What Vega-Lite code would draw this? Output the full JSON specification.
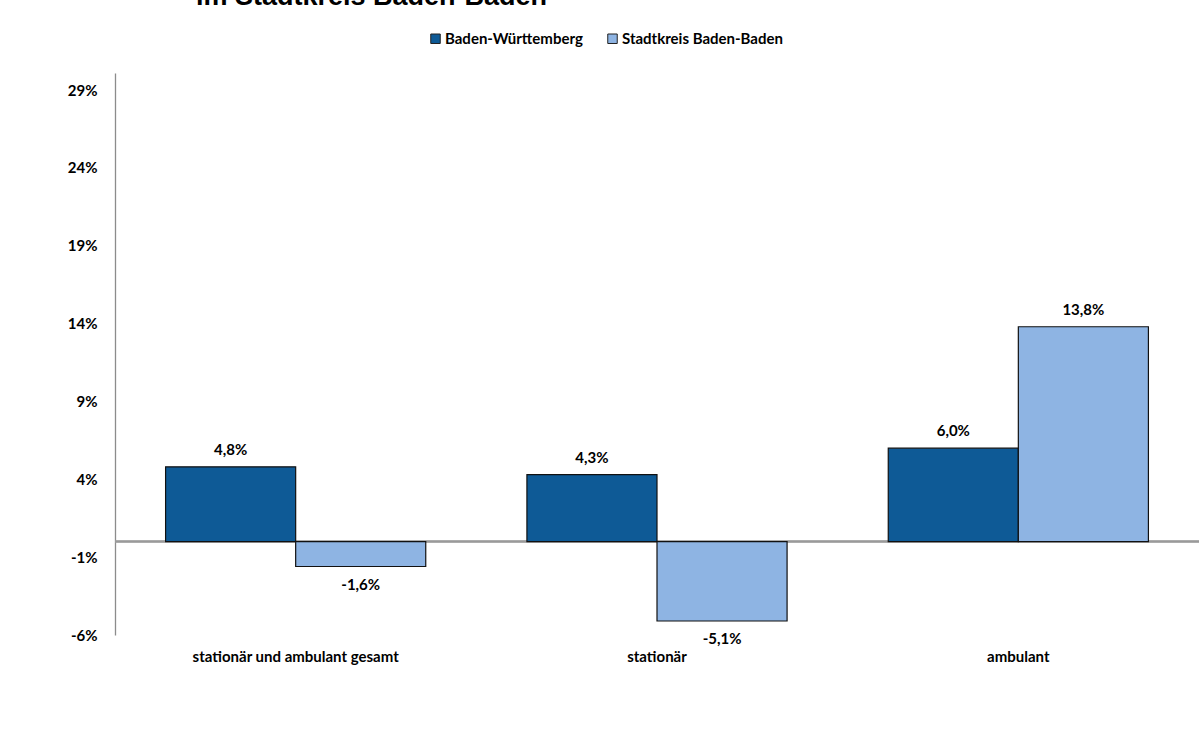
{
  "$schema": "https://vega.github.io/schema/vega-lite/v6.json",
  "autosize": {"type": "none"},
  "width": 1084,
  "height": 562,
  "padding": {"left": 115, "top": 73, "right": 5, "bottom": 121},
  "background": "white",
  "title": {
    "text": "im Stadtkreis Baden-Baden",
    "anchor": "start",
    "frame": "group",
    "font": "Liberation Sans",
    "fontSize": 27,
    "fontWeight": "bold",
    "color": "#000000",
    "baseline": "alphabetic",
    "dx": 81,
    "dy": 17,
    "offset": 16
  },
  "config": {
    "locale": {"number": {"decimal": ",", "thousands": ".", "grouping": [3], "currency": ["", " €"], "minus": "-", "percent": "%"}},
    "view": {"stroke": null},
    "font": "Lato"
  },
  "data": {
    "values": [
      {"cat": "stationär und ambulant gesamt", "region": "Baden-Württemberg", "value": 0.048},
      {"cat": "stationär und ambulant gesamt", "region": "Stadtkreis Baden-Baden", "value": -0.016},
      {"cat": "stationär", "region": "Baden-Württemberg", "value": 0.043},
      {"cat": "stationär", "region": "Stadtkreis Baden-Baden", "value": -0.051},
      {"cat": "ambulant", "region": "Baden-Württemberg", "value": 0.060},
      {"cat": "ambulant", "region": "Stadtkreis Baden-Baden", "value": 0.138}
    ]
  },
  "encoding": {
    "x": {
      "field": "cat", "type": "nominal", "sort": null,
      "scale": {"paddingInner": 0.28, "paddingOuter": 0.14},
      "axis": {"title": null, "labelAngle": 0, "domain": false, "ticks": false, "labelPadding": 14, "labelLimit": 0,
               "labelFont": "Lato", "labelFontSize": 15, "labelFontWeight": "bold", "labelColor": "#000000"}
    },
    "xOffset": {"field": "region", "type": "nominal", "scale": {"paddingInner": 0, "paddingOuter": 0}},
    "y": {
      "field": "value", "type": "quantitative",
      "scale": {"domain": [-0.06, 0.301], "nice": false, "zero": false},
      "axis": {"title": null, "values": [-0.06, -0.01, 0.04, 0.09, 0.14, 0.19, 0.24, 0.29], "format": ".0%",
               "grid": false, "ticks": false, "domainColor": "#8c8c8c", "domainWidth": 1.3, "labelPadding": 18,
               "labelFont": "Lato", "labelFontSize": 15, "labelFontWeight": "bold", "labelColor": "#000000"}
    }
  },
  "layer": [
    {
      "mark": {"type": "rule", "color": "#9a9a9a", "strokeWidth": 1.5},
      "encoding": {"y": {"datum": 0}, "x": null, "xOffset": null}
    },
    {
      "mark": {"type": "bar", "stroke": "#111111", "strokeWidth": 1.2},
      "encoding": {
        "color": {
          "field": "region", "type": "nominal",
          "scale": {"domain": ["Baden-Württemberg", "Stadtkreis Baden-Baden"], "range": ["#0E5A96", "#8EB4E3"]},
          "legend": {
            "title": null, "orient": "none", "legendX": 313, "legendY": -42, "direction": "horizontal",
            "symbolType": "square", "symbolSize": 90, "symbolStrokeColor": "#222222", "symbolStrokeWidth": 1,
            "labelFont": "Lato", "labelFontSize": 15, "labelFontWeight": "bold", "labelColor": "#000000",
            "labelOffset": 2, "labelLimit": 0, "columnPadding": 22, "padding": 0
          }
        }
      }
    },
    {
      "transform": [{"filter": "datum.value >= 0"}],
      "mark": {"type": "text", "baseline": "bottom", "dy": -9, "font": "Lato", "fontSize": 15, "fontWeight": "bold", "color": "#000000"},
      "encoding": {"text": {"field": "value", "type": "quantitative", "format": ".1%"}}
    },
    {
      "transform": [{"filter": "datum.value < 0"}],
      "mark": {"type": "text", "baseline": "top", "dy": 11, "font": "Lato", "fontSize": 15, "fontWeight": "bold", "color": "#000000"},
      "encoding": {"text": {"field": "value", "type": "quantitative", "format": ".1%"}}
    }
  ]
}
